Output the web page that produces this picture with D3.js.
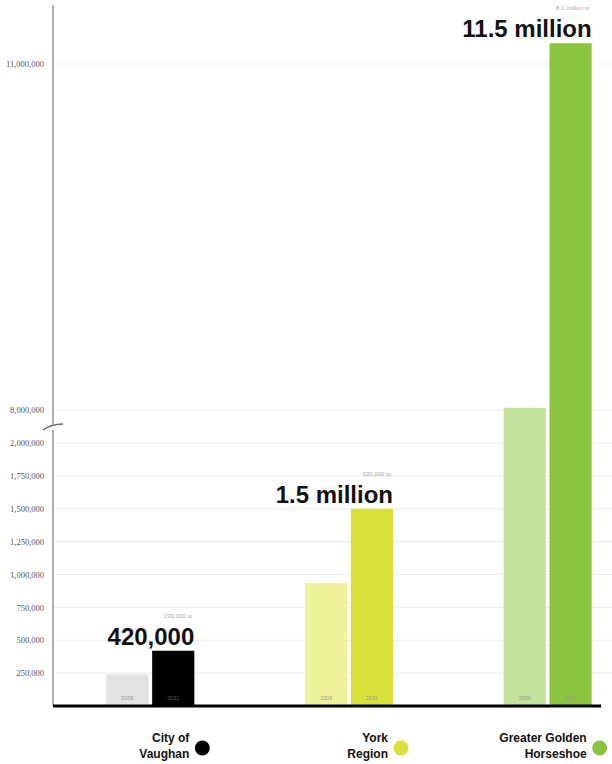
<!DOCTYPE html>
<html><head><meta charset="utf-8">
<script src="https://cdn.jsdelivr.net/npm/d3@7"></script>
<style>body{margin:0;background:#fff}svg{display:block}</style>
</head><body>
<svg id="c" width="612" height="764"></svg>
<script>
const regions = ["City of Vaughan", "York Region", "Greater Golden Horseshoe"];
const regionLines = [["City of", "Vaughan"], ["York", "Region"], ["Greater Golden", "Horseshoe"]];
const years = ["2006", "2031"];
const pop2006 = [240000, 935000, 8020000];
const pop2031 = [420000, 1500000, 11180000];
const fromLabels = ["230,000 to", "930,000 to", "8.1 million to"];
const toLabels = ["420,000", "1.5 million", "11.5 million"];
const lowerTicks = [250000, 500000, 750000, 1000000, 1250000, 1500000, 1750000, 2000000];
const upperTicks = [8000000, 11000000];
const colors2006 = ["#e3e3e3", "#eef39c", "#c3e29c"];
const colors2031 = ["#000000", "#d8e03a", "#8bc53f"];
const dotColors = ["#000000", "#d8e03a", "#8bc53f"];

const svg = d3.select("#c");
const axisX = 53, rightX = 612;
const yLow = d3.scaleLinear().domain([0, 2000000]).range([706, 443]);
const yUp = d3.scaleLinear().domain([8000000, 11000000]).range([410, 64]);
const y = v => v <= 2000000 ? yLow(v) : yUp(v);

const x0 = d3.scaleBand().domain(regions).range([52, 648]).paddingInner(0.0).paddingOuter(0);
const x1 = d3.scaleBand().domain(years).range([0, 88]).paddingInner(0.08);
const groupOffset = d => x0(d) + x0.bandwidth()/2 - 44;

// grid
const grid = svg.append("g");
lowerTicks.forEach(t => grid.append("line").attr("x1", axisX).attr("x2", rightX)
  .attr("y1", yLow(t)).attr("y2", yLow(t)).attr("stroke", "#ededed").attr("stroke-width", 1.2));
upperTicks.forEach(t => grid.append("line").attr("x1", axisX).attr("x2", rightX)
  .attr("y1", yUp(t)).attr("y2", yUp(t)).attr("stroke", "#ededed").attr("stroke-width", 1.2));

// axes via d3
const fmt = d3.format(",");
const gl = svg.append("g").attr("transform", `translate(${axisX},0)`)
  .call(d3.axisLeft(yLow).tickValues(lowerTicks).tickFormat(fmt).tickSize(0).tickPadding(9));
const gu = svg.append("g").attr("transform", `translate(${axisX},0)`)
  .call(d3.axisLeft(yUp).tickValues(upperTicks).tickFormat(fmt).tickSize(0).tickPadding(9));
[gl, gu].forEach(g => {
  g.select(".domain").remove();
  g.selectAll("text").attr("font-family", "Liberation Serif, serif").attr("font-size", 8.5).attr("fill", "#555");
});
svg.append("line").attr("x1", axisX).attr("x2", axisX).attr("y1", 5).attr("y2", 706)
  .attr("stroke", "#9a9a9a").attr("stroke-width", 1.6);
// break mark
svg.append("rect").attr("x", axisX - 3).attr("y", 424).attr("width", 6).attr("height", 6).attr("fill", "#fff");
svg.append("path").attr("d", `M${axisX-10},${430} Q${axisX-2},${424} ${axisX+10},${424}`)
  .attr("fill", "none").attr("stroke", "#666").attr("stroke-width", 1.3);

// bars
const gx = i => groupOffset(regions[i]) - 1;
regions.forEach((r, i) => {
  const base = gx(i);
  [[pop2006[i], colors2006[i], "2006"], [pop2031[i], colors2031[i], "2031"]].forEach(([v, c, yr]) => {
    const bx = base + x1(yr);
    svg.append("rect").attr("x", bx).attr("y", y(v)).attr("width", x1.bandwidth())
      .attr("height", 706 - y(v)).attr("fill", c);
    svg.append("text").attr("x", bx + x1.bandwidth()/2).attr("y", 700).attr("text-anchor", "middle")
      .attr("font-family", "Liberation Sans, Arial, sans-serif").attr("font-size", 5.5)
      .attr("fill", yr === "2031" && i === 0 ? "#555" : "#999").text(yr);
  });
  const right = base + x1("2031") + x1.bandwidth();
  const top = y(pop2031[i]);
  svg.append("text").attr("x", right).attr("y", top - 6).attr("text-anchor", "end")
    .attr("font-family", "Liberation Sans, Arial, sans-serif").attr("font-weight", "bold")
    .attr("font-size", 24).attr("fill", "#111").text(toLabels[i]);
  svg.append("text").attr("x", right - 2).attr("y", top - 33).attr("text-anchor", "end")
    .attr("font-family", "Liberation Sans, Arial, sans-serif").attr("font-size", 6)
    .attr("fill", "#aaa").text(fromLabels[i]);
  // legend
  const lt = svg.append("text").attr("text-anchor", "end")
    .attr("font-family", "Liberation Sans, Arial, sans-serif").attr("font-weight", "bold")
    .attr("font-size", 12).attr("fill", "#111");
  regionLines[i].forEach((ln, k) => lt.append("tspan").attr("x", right - 5).attr("y", 742 + k*15.5).text(ln));
  svg.append("circle").attr("cx", right + 8).attr("cy", 748).attr("r", 7.5).attr("fill", dotColors[i]);
});

// baseline
svg.append("line").attr("x1", axisX).attr("x2", 601).attr("y1", 706).attr("y2", 706)
  .attr("stroke", "#000").attr("stroke-width", 3);
</script>
</body></html>
